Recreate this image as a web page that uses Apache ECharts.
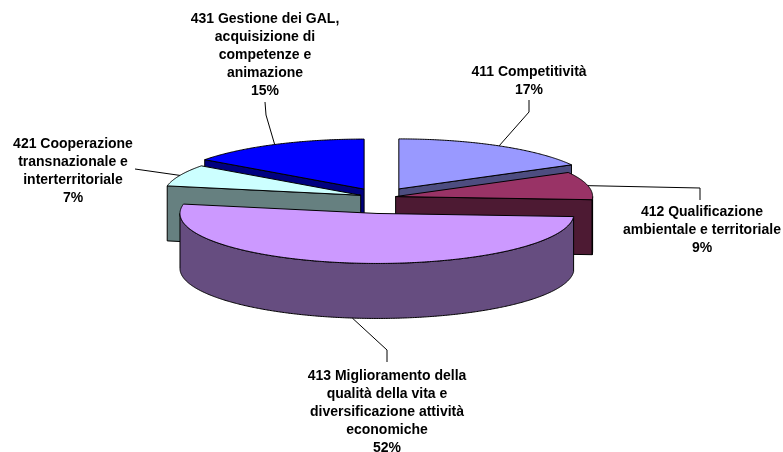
<!DOCTYPE html>
<html>
<head>
<meta charset="utf-8">
<script src="https://cdn.jsdelivr.net/npm/echarts@6/dist/echarts.min.js"></script>
<style>
  html, body { margin: 0; padding: 0; background: #fff; }
  #chart { width: 783px; height: 452px; }
</style>
</head>
<body>
<div id="chart"></div>
<script>
// data
const categories = [
  '411 Competitività',
  '412 Qualificazione\nambientale e territoriale',
  '413 Miglioramento della\nqualità della vita e\ndiversificazione attività\neconomiche',
  '421 Cooperazione\ntransnazionale e\ninterterritoriale',
  '431 Gestione dei GAL,\nacquisizione di\ncompetenze e\nanimazione'
];
const values = [17, 9, 52, 7, 15];
const colors = ['#9999FF', '#993366', '#CC99FF', '#CCFFFF', '#0000FF'];

// 3d look (perspective: explode moves less vertically toward the back)
const X0 = 380, Y0 = 197.5, RX = 197, RY = 50, DEPTH = 55;
const KY_BACK = 0.27, KY_FRONT = 0.67;
const explode = [37, 16, 24, 21, 35];

// label placement (block centre) and leader bends, label side first
const labelPos = [[529, 81], [702, 230], [387, 412], [73, 171], [265, 55]];
const leaderBends = [
  [[529, 100], [529, 112]],
  [[700, 200], [700, 188]],
  [[387, 362], [387, 350]],
  [[135, 169]],
  [[265, 102], [266, 115]]
];

const total = values.reduce((a, b) => a + b, 0);
const starts = [], ends = [];
let acc = 0;
values.forEach(v => {
  starts.push(acc / total * 360);
  acc += v;
  ends.push(acc / total * 360);
});
const rad = d => d * Math.PI / 180;

const centers = values.map((v, i) => {
  const mid = rad((starts[i] + ends[i]) / 2);
  const cy = Math.cos(mid);
  const ky = cy > 0 ? KY_BACK : KY_FRONT;
  return [X0 + explode[i] * Math.sin(mid), Y0 - ky * explode[i] * cy];
});
// back to front
const order = values.map((v, i) => i).sort((a, b) => centers[a][1] - centers[b][1]);
const rank = [];
order.forEach((idx, r) => { rank[idx] = r; });

function shade(hex, f) {
  const n = parseInt(hex.slice(1), 16);
  const r = Math.round(((n >> 16) & 255) * f);
  const g = Math.round(((n >> 8) & 255) * f);
  const b = Math.round((n & 255) * f);
  return 'rgb(' + r + ',' + g + ',' + b + ')';
}

function rim(i, deg, dz) {
  const c = centers[i];
  return [c[0] + RX * Math.sin(rad(deg)), c[1] - RY * Math.cos(rad(deg)) + dz];
}
function arc(i, a, b, dz) {
  const n = Math.max(2, Math.ceil(Math.abs(b - a) / 0.5));
  const pts = [];
  for (let k = 0; k <= n; k++) pts.push(rim(i, a + (b - a) * k / n, dz));
  return pts;
}

const outline = { stroke: '#000', lineWidth: 1 };

function renderItem(params, api) {
  const i = params.dataIndex;
  const a0 = starts[i], a1 = ends[i];
  const c = centers[i];
  const base = rank[i] * 10;
  const side = shade(colors[i], 0.5);
  const children = [];

  // cut faces
  const cut = (deg) => {
    const p = rim(i, deg, 0);
    return {
      type: 'polygon', z2: base + 1,
      shape: { points: [c, p, [p[0], p[1] + DEPTH], [c[0], c[1] + DEPTH]] },
      style: Object.assign({ fill: side }, outline)
    };
  };
  if (Math.sin(rad(a0)) < -1e-6) children.push(cut(a0));
  if (Math.sin(rad(a1)) > 1e-6) children.push(cut(a1));

  // outer wall (front half only)
  const lo = Math.max(a0, 90), hi = Math.min(a1, 270);
  if (lo < hi) {
    const top = arc(i, lo, hi, 0);
    const bottom = arc(i, hi, lo, DEPTH);
    children.push({
      type: 'polygon', z2: base + 2,
      shape: { points: top.concat(bottom) },
      style: Object.assign({ fill: side }, outline)
    });
  }

  // top face
  children.push({
    type: 'polygon', z2: base + 3,
    shape: { points: [c].concat(arc(i, a0, a1, 0)) },
    style: Object.assign({ fill: colors[i] }, outline)
  });

  // leader line
  const midDeg = (a0 + a1) / 2;
  const front = Math.cos(rad(midDeg)) < 0;
  const end = rim(i, midDeg, front ? DEPTH : 0);
  children.push({
    type: 'polyline', z2: 200,
    shape: { points: leaderBends[i].concat([end]) },
    style: { stroke: '#000', lineWidth: 1, fill: null }
  });

  // label
  const pct = Math.round(api.value(1) / total * 100);
  children.push({
    type: 'text', z2: 201,
    style: {
      text: categories[i] + '\n' + pct + '%',
      x: labelPos[i][0], y: labelPos[i][1],
      align: 'center', verticalAlign: 'middle',
      textAlign: 'center', textVerticalAlign: 'middle',
      font: 'bold 14px "Liberation Sans", Arial, sans-serif',
      lineHeight: 18,
      fill: '#000'
    }
  });

  return { type: 'group', children: children };
}

const chart = echarts.init(document.getElementById('chart'));
chart.setOption({
  animation: false,
  backgroundColor: '#fff',
  series: [{
    type: 'custom',
    coordinateSystem: 'none',
    silent: true,
    renderItem: renderItem,
    data: values.map((v, i) => [i, v])
  }]
});
</script>
</body>
</html>
